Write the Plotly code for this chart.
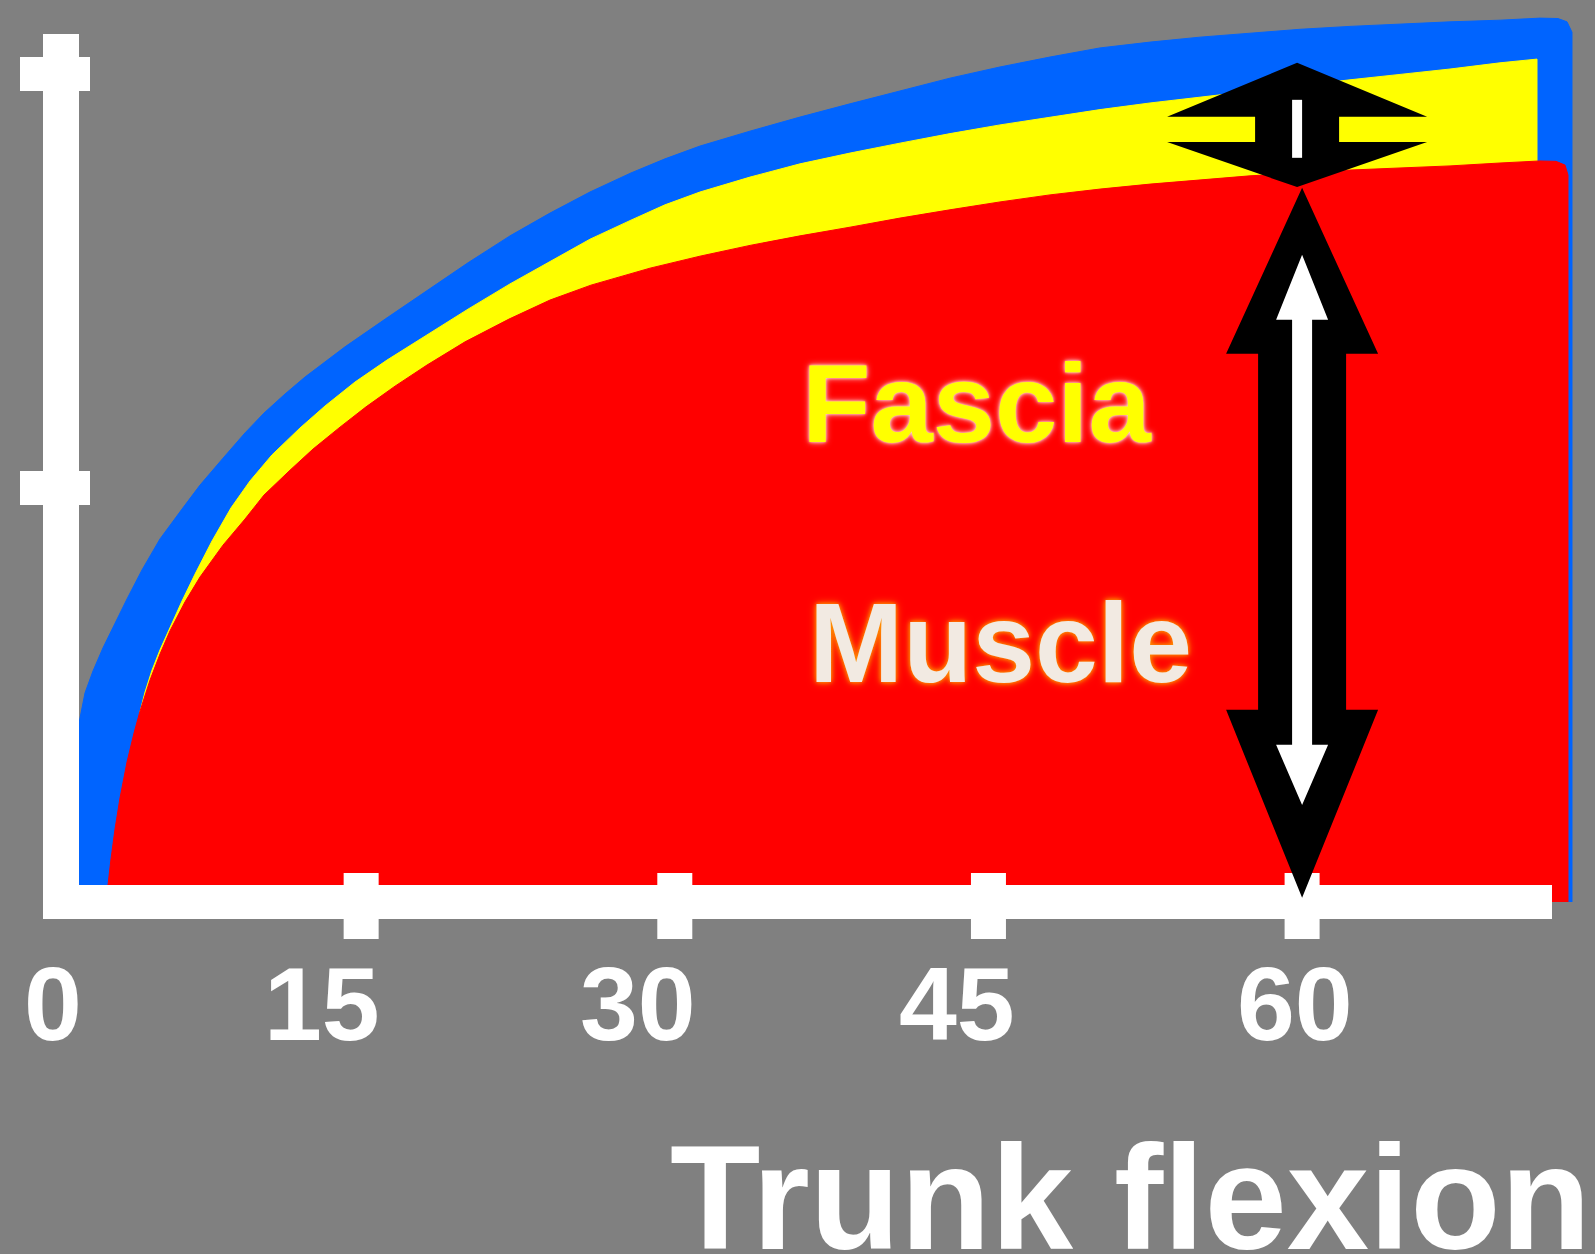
import plotly.graph_objects as go

# ---------------- data ----------------
# trunk flexion (deg) vs tension (arbitrary units); outline of each filled region
total_flexion = [1.459, 1.459, 1.793, 2.176, 2.654, 3.132, 3.802, 4.519, 5.380, 6.432, 7.293, 8.393,
                 9.445, 10.354, 11.358, 12.315, 14.228, 16.236, 18.293, 20.110, 22.119, 24.032,
                 25.944, 27.905, 29.531, 31.205, 33.597, 35.988, 38.379, 40.770, 43.161, 45.552,
                 47.943, 50.335, 52.726, 55.117, 57.508, 59.900, 62.291, 64.682, 67.073, 69.464,
                 71.377, 72.238, 72.669, 72.907, 72.907]
total_tension = [0.000, 0.420, 0.505, 0.558, 0.614, 0.664, 0.732, 0.802, 0.877, 0.949, 1.007, 1.072,
                 1.133, 1.181, 1.227, 1.268, 1.341, 1.411, 1.481, 1.544, 1.609, 1.664,
                 1.715, 1.761, 1.795, 1.826, 1.862, 1.896, 1.928, 1.959, 1.990, 2.017,
                 2.041, 2.063, 2.077, 2.089, 2.099, 2.108, 2.115, 2.121, 2.126, 2.130,
                 2.135, 2.134, 2.126, 2.101, 0.000]

fascia_flexion = [4.424, 4.424, 4.663, 4.998, 5.380, 5.858, 6.432, 7.054, 7.867, 8.776, 9.684,
                  10.736, 12.075, 13.271, 14.706, 16.236, 18.293, 20.110, 22.119, 24.032, 25.944,
                  27.905, 29.531, 31.205, 33.597, 35.988, 38.379, 40.770, 43.161, 45.552, 47.943,
                  50.335, 52.726, 55.117, 57.508, 59.900, 62.291, 64.682, 67.073, 69.464, 71.234,
                  71.234]
fascia_tension = [0.000, 0.459, 0.507, 0.560, 0.609, 0.664, 0.727, 0.792, 0.872, 0.952, 1.017,
                  1.080, 1.145, 1.198, 1.256, 1.309, 1.374, 1.432, 1.493, 1.548, 1.601,
                  1.647, 1.684, 1.715, 1.751, 1.783, 1.809, 1.833, 1.856, 1.877, 1.896,
                  1.914, 1.930, 1.944, 1.959, 1.972, 1.986, 1.999, 2.012, 2.027, 2.036,
                  0.000]

muscle_flexion = [2.893, 2.893, 3.037, 3.228, 3.467, 3.802, 4.137, 4.424, 4.902, 5.380, 5.858,
                  6.576, 7.293, 8.393, 9.445, 10.354, 11.597, 12.697, 13.988, 15.232, 16.619,
                  18.149, 19.966, 22.071, 24.032, 25.992, 28.814, 31.205, 33.597, 35.988, 38.379,
                  40.770, 43.161, 45.552, 47.943, 50.335, 52.726, 55.117, 57.508, 59.900, 62.291,
                  64.682, 67.073, 69.464, 71.377, 72.142, 72.573, 72.716, 72.716]
muscle_tension = [0.000, 0.041, 0.104, 0.176, 0.251, 0.338, 0.408, 0.461, 0.536, 0.599, 0.655,
                  0.725, 0.785, 0.862, 0.925, 0.983, 1.043, 1.094, 1.147, 1.196, 1.246,
                  1.297, 1.353, 1.408, 1.454, 1.490, 1.531, 1.560, 1.586, 1.609, 1.630,
                  1.652, 1.672, 1.691, 1.708, 1.722, 1.734, 1.744, 1.754, 1.761, 1.768,
                  1.773, 1.778, 1.785, 1.790, 1.789, 1.780, 1.756, 0.000]

x_ticks = [0, 15, 30, 45, 60]
x_tick_labels = ["0", "15", "30", "45", "60"]
y_ticks = [1, 2]

arrow_flexion = 60
muscle_span = [0.01, 1.725]   # muscle arrow: bottom tip, top tip
fascia_span = [1.727, 2.027]  # fascia arrow: bottom tip, top tip

# ---------------- layout geometry ----------------
W, H = 1595, 1254
X0_PX, PX_PER_X = 47.5, 20.91
Y0_PX, PX_PER_Y = 902.0, 414.0
x_range = [-X0_PX / PX_PER_X, (W - X0_PX) / PX_PER_X]
y_range = [(Y0_PX - H) / PX_PER_Y, Y0_PX / PX_PER_Y]


def dx(px):
    return px / PX_PER_X


def dy(px):
    return px / PX_PER_Y


def xd(px):
    return (px - X0_PX) / PX_PER_X


def yd(py):
    return (Y0_PX - py) / PX_PER_Y


BG = "#808080"
BLUE = "#0064FF"
YELLOW = "#FFFF00"
RED = "#FF0000"
WHITE = "#FFFFFF"
FONT = "Liberation Sans, Arial, sans-serif"

fig = go.Figure()
for xs, ys, col in [(total_flexion, total_tension, BLUE),
                    (fascia_flexion, fascia_tension, YELLOW),
                    (muscle_flexion, muscle_tension, RED)]:
    fig.add_trace(go.Scatter(x=xs, y=ys, mode="lines", fill="toself", fillcolor=col,
                             line=dict(color=col, width=1),
                             hoverinfo="skip", showlegend=False))

shapes = []
# y axis and x axis (white bars)
shapes.append(dict(type="rect", xref="x", yref="y", x0=xd(43), x1=xd(79), y0=yd(919), y1=yd(34),
                   fillcolor=WHITE, line=dict(width=0)))
shapes.append(dict(type="rect", xref="x", yref="y", x0=xd(43), x1=xd(1552), y0=yd(919), y1=yd(885),
                   fillcolor=WHITE, line=dict(width=0)))
# x ticks
for t in x_ticks[1:]:
    shapes.append(dict(type="rect", xref="x", yref="y", x0=t - dx(17.5), x1=t + dx(17.5),
                       y0=yd(939), y1=yd(873), fillcolor=WHITE, line=dict(width=0)))
# y ticks
for t in y_ticks:
    shapes.append(dict(type="rect", xref="x", yref="y", x0=xd(20), x1=xd(90),
                       y0=t - dy(17), y1=t + dy(17), fillcolor=WHITE, line=dict(width=0)))


def vpath(pts):
    return "M " + " L ".join(f"{x:.2f},{y:.4f}" for x, y in pts) + " Z"


def double_arrow(bot, top, head_w, shaft_w, head_top, head_bot, off=0):
    return vpath([
        (off, top), (off + head_w, top - head_top), (off + shaft_w, top - head_top),
        (off + shaft_w, bot + head_bot), (off + head_w, bot + head_bot), (off, bot),
        (off - head_w, bot + head_bot), (off - shaft_w, bot + head_bot),
        (off - shaft_w, top - head_top), (off - head_w, top - head_top)])


def pshape(path, color):
    return dict(type="path", xref="x", yref="y", xsizemode="pixel", ysizemode="scaled",
                xanchor=arrow_flexion, path=path, fillcolor=color, line=dict(width=0))


mb, mt = muscle_span
shapes.append(pshape(double_arrow(mb, mt, 76, 44, dy(166), dy(188)), "#000000"))
shapes.append(pshape(double_arrow(mb + dy(93), mt - dy(67), 26, 10, dy(65), dy(60)), WHITE))
fb, ft = fascia_span
shapes.append(pshape(double_arrow(fb, ft, 130, 42, dy(54), dy(45), off=-5), "#000000"))
shapes.append(dict(type="rect", xref="x", yref="y", xsizemode="pixel", ysizemode="scaled",
                   xanchor=arrow_flexion, x0=-10, x1=0, y0=ft - dy(95), y1=ft - dy(37),
                   fillcolor=WHITE, line=dict(width=0)))

annotations = []
label_xshift = [5, -39, -37, -31, -7]
for t, lab, xs in zip(x_ticks, x_tick_labels, label_xshift):
    annotations.append(dict(x=t, y=yd(1004), xref="x", yref="y", text=f"<b>{lab}</b>",
                            showarrow=False, xanchor="center", yanchor="middle", xshift=xs,
                            font=dict(family=FONT, size=104, color=WHITE)))

annotations.append(dict(x=xd(976), y=yd(403), xref="x", yref="y", text="<b>Fascia</b>",
                        showarrow=False, xanchor="center", yanchor="middle",
                        font=dict(family=FONT, size=112, color=YELLOW,
                                  shadow="0px 0px 6px #FFD0D0, 0px 0px 3px #FFE8E8")))
annotations.append(dict(x=xd(1000), y=yd(643), xref="x", yref="y", text="<b>Muscle</b>",
                        showarrow=False, xanchor="center", yanchor="middle",
                        font=dict(family=FONT, size=113, color="#F2EAE2",
                                  shadow="0px 0px 9px #FF8C00, 0px 0px 4px #FFB000")))
annotations.append(dict(x=668 / W, y=1 - 1197 / H, xref="paper", yref="paper",
                        text="<b>Trunk flexion</b>", showarrow=False, xanchor="left",
                        yanchor="middle",
                        font=dict(family=FONT, size=148, color=WHITE)))

fig.update_layout(
    width=W, height=H, autosize=False,
    margin=dict(l=0, r=0, t=0, b=0, pad=0),
    paper_bgcolor=BG, plot_bgcolor=BG,
    xaxis=dict(range=x_range, visible=False, fixedrange=True),
    yaxis=dict(range=y_range, visible=False, fixedrange=True),
    shapes=shapes, annotations=annotations,
    showlegend=False,
)

fig.write_html("out.html", config={"displayModeBar": False},
               post_script="document.body.style.margin='0';document.body.style.overflow='hidden';")
